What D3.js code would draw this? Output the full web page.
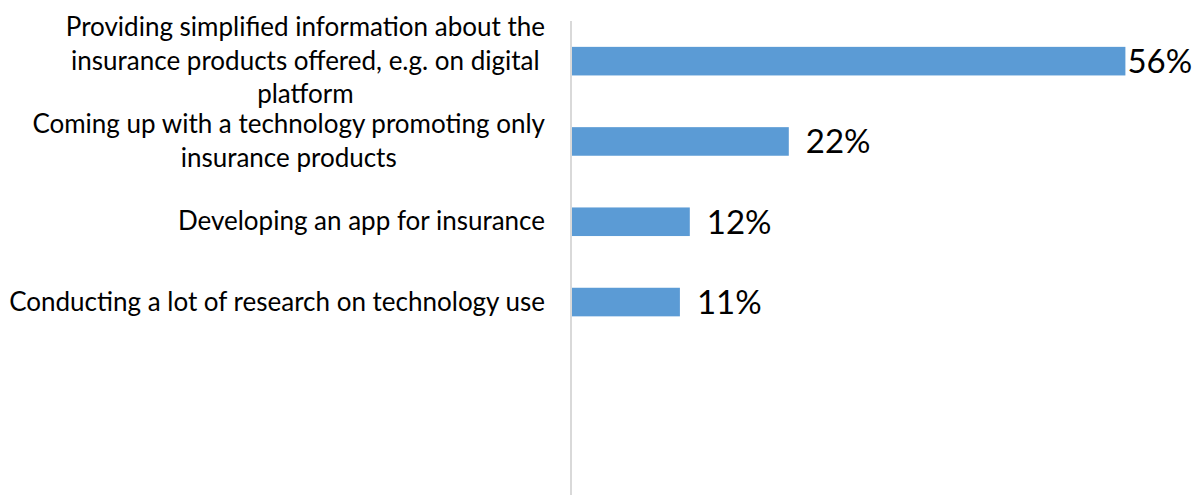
<!DOCTYPE html>
<html>
<head>
<meta charset="utf-8">
<script src="https://cdn.jsdelivr.net/npm/d3@7"></script>
<style>
  html, body { margin: 0; padding: 0; background: #ffffff; }
  svg { display: block; }
  text { font-family: Lato, "Open Sans", sans-serif; fill: #000000; }
</style>
</head>
<body>
<svg id="chart" width="1193" height="495"></svg>
<script>
// Survey answers, one line per row of the label
const categories = [
  "Providing simplified information about the\ninsurance products offered, e.g. on digital\nplatform",
  "Coming up with a technology promoting only\ninsurance products",
  "Developing an app for insurance",
  "Conducting a lot of research on technology use"
];
const values = [56, 22, 12, 11];
const valueLabels = ["56%", "22%", "12%", "11%"];

const width = 1193, height = 495;
const axisX = 571;
const plotTop = 21, plotBottom = 495;
const step = 80.3;

const svg = d3.select("#chart");

const x = d3.scaleLinear()
  .domain([0, 60])
  .range([axisX, axisX + 60 * 9.9]);

const y = d3.scaleBand()
  .domain(categories)
  .range([plotTop, plotTop + step * categories.length])
  .paddingInner(0.644)
  .paddingOuter(0.322);

// Bars
svg.append("g")
  .selectAll("rect")
  .data(values)
  .join("rect")
  .attr("x", x(0) + 1)
  .attr("y", (d, i) => y(categories[i]))
  .attr("width", d => x(d) - x(0) - 1)
  .attr("height", y.bandwidth())
  .attr("fill", "#5b9bd5");

// Category axis line
svg.append("line")
  .attr("x1", axisX).attr("x2", axisX)
  .attr("y1", plotTop).attr("y2", plotBottom)
  .attr("stroke", "#d9d9d9")
  .attr("stroke-width", 2);

// Category labels: centred lines, block right-aligned to the axis
const labelRight = axisX - 26;
const lineHeight = 33.5;
const catFont = 26;
const labelG = svg.append("g");
categories.forEach((cat, i) => {
  const lines = cat.split("\n");
  const cy = y(cat) + y.bandwidth() / 2;
  const g = labelG.append("g");
  const texts = lines.map((ln, j) =>
    g.append("text")
      .attr("font-size", catFont)
      .attr("text-anchor", "middle")
      .attr("y", cy + (j - (lines.length - 1) / 2) * lineHeight + 8.5)
      .text(ln)
  );
  const maxW = d3.max(texts, t => t.node().getComputedTextLength());
  texts.forEach(t => t.attr("x", labelRight - maxW / 2));
});

// Value labels beside each bar, pulled in where they would leave the chart
const valFont = 33;
svg.append("g")
  .selectAll("text")
  .data(values)
  .join("text")
  .attr("font-size", valFont)
  .attr("y", (d, i) => y(categories[i]) + y.bandwidth() / 2 + 12)
  .text((d, i) => valueLabels[i])
  .attr("x", function(d) {
    const w = this.getComputedTextLength();
    return Math.max(x(d) + 2, Math.min(x(d) + 17, width - 2 - w));
  });
</script>
</body>
</html>
